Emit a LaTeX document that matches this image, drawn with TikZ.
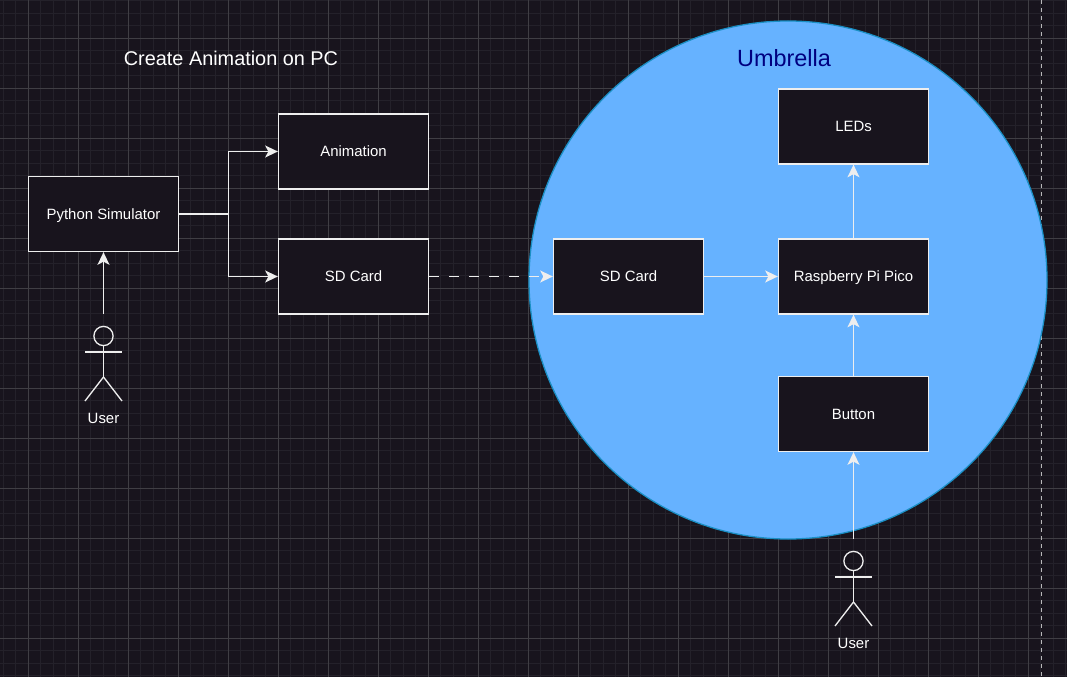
\documentclass[tikz,border=0pt]{standalone}
\usepackage{fontspec}
\setmainfont{Liberation Sans}
\usetikzlibrary{arrows.meta,positioning,calc}
\definecolor{canvas}{HTML}{18141D}
\definecolor{gridmajor}{HTML}{403E44}
\definecolor{gridminor}{HTML}{24212A}
\definecolor{umbrellablue}{HTML}{66B2FF}
\definecolor{umbrellaedge}{HTML}{1A8FC4}
\definecolor{umbrellatext}{HTML}{000080}
\definecolor{linegray}{HTML}{EEEEEE}
\tikzset{
  block/.style={draw=linegray, fill=canvas, line width=1pt, minimum width=112.5pt, minimum height=56.25pt, inner sep=0pt, text=white, font=\fontsize{11.2pt}{13pt}\selectfont, text height=10pt, text depth=2pt},
  link/.style={draw=linegray, line width=1pt, -{Stealth[length=9.5pt,width=9pt,inset=2.4pt]}},
  stick/.style={draw=linegray, line width=1pt},
  caption/.style={text=white, font=\fontsize{11.2pt}{13pt}\selectfont}
}
\begin{document}
\begin{tikzpicture}[x=0.75pt,y=-0.75pt]
\useasboundingbox (0,0) rectangle (1067,677);
\fill[canvas] (0,0) rectangle (1067,677);
% Grid
\foreach \k in {0,...,85} {
  \draw[gridminor, line width=0.5pt] ({3+12.5*\k},0) -- ({3+12.5*\k},677);
}
\foreach \k in {0,...,54} {
  \draw[gridminor, line width=0.5pt] (0,{0.5+12.5*\k}) -- (1067,{0.5+12.5*\k});
}
\foreach \k in {0,...,20} {
  \draw[gridmajor, line width=0.5pt] ({28+50*\k},0) -- ({28+50*\k},677);
}
\foreach \k in {0,...,12} {
  \draw[gridmajor, line width=0.5pt] (0,{38+50*\k}) -- (1067,{38+50*\k});
}
% Page edge
\draw[linegray!75!canvas, line width=1.1pt, dash pattern=on 3pt off 3pt] (1041.5,0) -- (1041.5,677);
% Umbrella
\node[draw=umbrellaedge, fill=umbrellablue, circle, line width=0.95pt, minimum size=388.5pt, inner sep=0pt] (umbrella) at (788,280) {};
\node[text=umbrellatext, font=\fontsize{17.6pt}{20pt}\selectfont] (umbrellatitle) at (784,58) {Umbrella};
\node[text=white, font=\fontsize{14.9pt}{18pt}\selectfont] (pctitle) at (231,58) {Create Animation on PC};
% Boxes
\node[block] (python) at (103.5,214) {Python Simulator};
\node[block] (animation) at (353.5,151.5) {Animation};
\node[block] (sdpc) at (353.5,276.5) {SD Card};
\node[block] (sdumbrella) at (628.5,276.5) {SD Card};
\node[block] (pico) at (853.5,276.5) {Raspberry Pi Pico};
\node[block] (leds) at (853.5,126.5) {LEDs};
\node[block] (button) at (853.5,414) {Button};
% Users
\foreach \name/\cx/\ty in {userpc/103.5/326,userumbrella/853.5/551} {
  \coordinate (\name) at (\cx,\ty-12);
  \draw[stick] (\cx,\ty+10) circle (7.2pt);
  \draw[stick] (\cx,\ty+19.5) -- (\cx,\ty+51);
  \draw[stick] (\cx-18.5,\ty+26) -- (\cx+18.5,\ty+26);
  \draw[stick] (\cx-18.5,\ty+75) -- (\cx,\ty+51) -- (\cx+18.5,\ty+75);
  \node[caption] (\name label) at (\cx,\ty+92.5) {User};
}
% Connectors
\coordinate (branch) at (228.5,214);
\draw[link] (python.east) -- (branch) |- (animation.west);
\draw[link] (python.east) -- (branch) |- (sdpc.west);
\draw[link, dash pattern=on 7.5pt off 7.5pt] (sdpc.east) -- (sdumbrella.west);
\draw[link] (sdumbrella.east) -- (pico.west);
\draw[link] (pico.north) -- (leds.south);
\draw[link] (button.north) -- (pico.south);
\draw[link] (userpc) -- (python.south);
\draw[link] (userumbrella) -- (button.south);
\end{tikzpicture}
\end{document}
